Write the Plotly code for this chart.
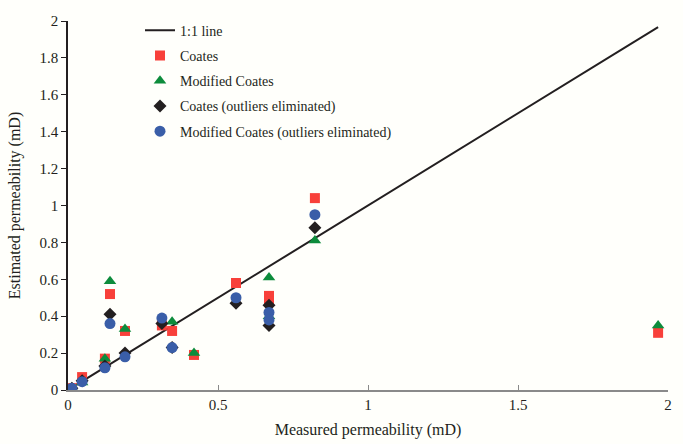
import plotly.graph_objects as go

# 1:1 line
line_x = [0, 1.967]
line_y = [0, 1.967]

# Coates
coates_x = [0.013, 0.047, 0.123, 0.14, 0.19, 0.313, 0.347, 0.42, 0.56, 0.67, 0.67, 0.823, 1.967]
coates_y = [0.01, 0.07, 0.17, 0.52, 0.32, 0.35, 0.32, 0.19, 0.58, 0.51, 0.48, 1.04, 0.31]

# Modified Coates
mod_x = [0.013, 0.047, 0.123, 0.14, 0.19, 0.347, 0.42, 0.67, 0.67, 0.823, 1.967]
mod_y = [0.01, 0.04, 0.17, 0.59, 0.33, 0.37, 0.20, 0.61, 0.40, 0.81, 0.35]

# Coates (outliers eliminated)
coe_x = [0.013, 0.047, 0.123, 0.14, 0.19, 0.313, 0.347, 0.56, 0.67, 0.67, 0.823]
coe_y = [0.01, 0.05, 0.13, 0.41, 0.20, 0.36, 0.23, 0.47, 0.46, 0.35, 0.88]

# Modified Coates (outliers eliminated)
moe_x = [0.013, 0.047, 0.123, 0.14, 0.19, 0.313, 0.347, 0.56, 0.67, 0.67, 0.823]
moe_y = [0.01, 0.045, 0.12, 0.36, 0.18, 0.39, 0.23, 0.50, 0.42, 0.38, 0.95]

x_ticks = [0, 0.5, 1, 1.5, 2]
y_ticks = [0, 0.2, 0.4, 0.6, 0.8, 1, 1.2, 1.4, 1.6, 1.8, 2]

FONT = "Liberation Serif, Times New Roman, serif"

fig = go.Figure()
fig.add_trace(go.Scatter(x=line_x, y=line_y, mode="lines", name="1:1 line",
                         line=dict(color="#231f20", width=2), legendgroup="a"))
fig.add_trace(go.Scatter(x=coates_x, y=coates_y, mode="markers", name="Coates",
                         marker=dict(symbol="square", size=10, color="#f8403a"), legendgroup="b"))
fig.add_trace(go.Scatter(x=mod_x, y=mod_y, mode="markers", name="Modified Coates",
                         marker=dict(symbol="triangle-up", size=11, color="#0d8c3c"), legendgroup="c"))
fig.add_trace(go.Scatter(x=coe_x, y=coe_y, mode="markers", name="Coates (outliers eliminated)",
                         marker=dict(symbol="diamond", size=10, color="#231f20"), legendgroup="d"))
fig.add_trace(go.Scatter(x=moe_x, y=moe_y, mode="markers", name="Modified Coates (outliers eliminated)",
                         marker=dict(symbol="circle", size=11, color="#3a5ea8"), legendgroup="e"))

fig.update_layout(
    width=683, height=444,
    margin=dict(l=68, r=15, t=21, b=54),
    paper_bgcolor="#fffffb", plot_bgcolor="#fffffb",
    font=dict(family=FONT, size=15, color="#231f20"),
    showlegend=True,
    legend=dict(x=0.12, y=1.017, xanchor="left", yanchor="top",
                bgcolor="rgba(0,0,0,0)", font=dict(size=14, family=FONT),
                tracegroupgap=4, itemwidth=30),
    xaxis=dict(range=[0, 2], tickvals=x_ticks, showgrid=False, zeroline=False,
               showline=True, linecolor="#8a8a8a", linewidth=2,
               ticks="inside", ticklen=5, tickcolor="#8a8a8a",
               tickfont=dict(size=15, family=FONT), automargin=False,
               title=dict(text="Measured permeability (mD)", font=dict(size=16, family=FONT), standoff=12)),
    yaxis=dict(range=[0, 2], tickvals=y_ticks, showgrid=False, zeroline=False,
               showline=True, linecolor="#231f20", linewidth=1.5,
               ticks="outside", ticklen=5, tickcolor="#231f20",
               tickfont=dict(size=15, family=FONT), automargin=False,
               title=dict(text="Estimated permeability (mD)", font=dict(size=16, family=FONT), standoff=15)),
)

fig.write_html("out.html")
